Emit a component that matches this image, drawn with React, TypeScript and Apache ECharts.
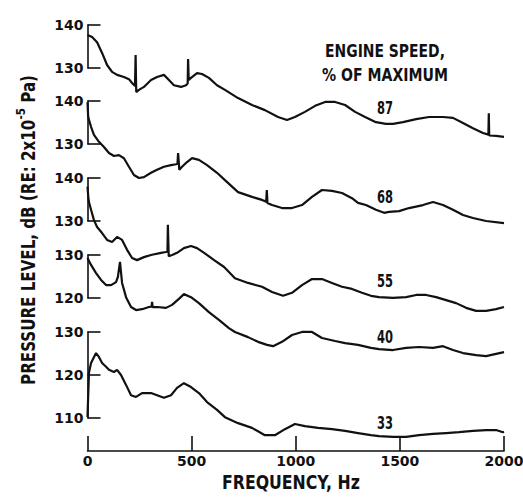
import { useEffect, useRef } from "react";
import * as echarts from "echarts";

// ---------- data (Hz, dB) ----------
const FREQ_MIN = 0;
const FREQ_MAX = 2000;
const FREQ_STEP = 500;

const speedLabels = ["87", "68", "55", "40", "33"];

const speed87: [number, number][] = [
  [0, 137.7], [22, 137.2], [46, 136.0], [70, 133.5], [94, 130.7], [118, 129.1], [142, 128.4],
  [175, 127.9], [199, 127.4], [214, 126.5], [228, 125.8], [231, 133.0], [234, 124.4], [247, 124.9],
  [271, 125.6], [305, 127.2], [334, 127.9], [367, 128.4], [391, 127.2], [415, 126.0], [449, 125.6],
  [473, 126.0], [481, 126.4], [483, 132.1], [486, 127.2], [497, 127.7], [526, 128.8], [550, 128.6],
  [583, 127.7], [622, 126.0], [660, 124.9], [723, 123.0], [790, 121.4], [852, 120.2], [915, 118.6],
  [958, 117.9], [996, 118.6], [1044, 119.8], [1093, 121.2], [1141, 122.1], [1189, 122.1],
  [1237, 121.4], [1285, 119.8], [1333, 118.6], [1385, 117.4], [1433, 117.0], [1467, 117.0],
  [1515, 117.4], [1578, 118.1], [1640, 118.6], [1707, 118.6], [1755, 118.4], [1803, 117.2],
  [1851, 116.0], [1899, 114.9], [1925, 114.5], [1927, 119.5], [1929, 114.3], [1962, 114.2],
  [2000, 114.0],
];

const speed68: [number, number][] = [
  [0, 139.7], [3, 136.5], [7, 135.6], [17, 134.0], [31, 132.1], [55, 130.5], [79, 129.3],
  [103, 127.9], [127, 127.2], [151, 127.4], [175, 126.7], [199, 124.7], [223, 122.8], [247, 122.1],
  [271, 122.3], [305, 123.3], [334, 124.0], [367, 124.7], [401, 125.1], [425, 125.3], [432, 125.4],
  [435, 127.9], [441, 124.0], [454, 124.7], [478, 125.8], [502, 126.7], [535, 126.3], [574, 125.1],
  [622, 123.3], [660, 121.6], [723, 118.8], [790, 117.7], [838, 117.0], [858, 116.6], [861, 119.3],
  [864, 116.3], [886, 115.8], [934, 115.1], [982, 115.1], [1030, 115.8], [1078, 117.7],
  [1126, 119.3], [1174, 119.1], [1222, 118.6], [1270, 117.4], [1299, 116.3], [1337, 115.8],
  [1385, 114.7], [1424, 114.0], [1448, 114.2], [1496, 114.4], [1544, 115.1], [1611, 115.8],
  [1659, 116.5], [1707, 115.8], [1755, 114.7], [1803, 113.5], [1851, 112.8], [1914, 112.1],
  [2000, 111.6],
];

const speed55: [number, number][] = [
  [0, 138.0], [4, 135.5], [7, 134.4], [17, 132.6], [31, 130.2], [46, 128.6], [70, 127.2],
  [94, 125.6], [118, 125.1], [142, 126.3], [166, 125.6], [190, 123.3], [214, 121.4], [238, 120.9],
  [271, 121.6], [305, 122.1], [353, 122.6], [377, 122.8], [384, 123.0], [386, 129.1], [390, 121.8],
  [406, 122.1], [430, 122.6], [463, 123.7], [497, 124.2], [526, 123.7], [560, 122.6], [608, 120.9],
  [656, 119.3], [708, 116.7], [771, 115.6], [838, 114.7], [886, 113.5], [939, 112.6], [982, 113.3],
  [1030, 115.1], [1078, 116.5], [1126, 116.5], [1174, 115.6], [1222, 114.7], [1270, 114.2],
  [1318, 113.3], [1361, 112.6], [1400, 112.3], [1467, 112.1], [1530, 112.3], [1578, 112.8],
  [1626, 112.8], [1674, 112.3], [1722, 111.6], [1770, 110.9], [1818, 109.8], [1866, 109.1],
  [1914, 109.1], [1962, 109.5], [2000, 110.0],
];

const speed40: [number, number][] = [
  [0, 129.3], [17, 127.7], [41, 125.8], [65, 124.2], [89, 123.0], [113, 123.0], [137, 123.7],
  [146, 124.9], [156, 128.4], [166, 123.5], [185, 120.2], [209, 117.9], [233, 117.2], [262, 117.4],
  [295, 117.9], [308, 118.0], [310, 119.1], [313, 117.9], [334, 117.9], [377, 117.7], [406, 118.4],
  [439, 119.8], [463, 120.9], [497, 120.2], [535, 118.8], [583, 116.7], [631, 114.9], [679, 113.0],
  [708, 112.1], [771, 110.9], [819, 109.8], [862, 109.1], [891, 108.8], [934, 109.8], [982, 111.4],
  [1030, 112.1], [1078, 112.1], [1126, 110.7], [1189, 110.0], [1237, 109.5], [1299, 109.1],
  [1361, 108.4], [1400, 108.1], [1467, 107.9], [1530, 108.4], [1592, 108.6], [1659, 108.4],
  [1707, 108.8], [1755, 107.9], [1803, 107.2], [1866, 106.7], [1914, 106.5], [1962, 107.0],
  [2000, 107.4],
];

const speed33: [number, number][] = [
  [0, 110.2], [7, 120.5], [17, 122.8], [41, 125.1], [55, 124.2], [70, 122.8], [89, 121.9],
  [103, 121.2], [127, 120.7], [142, 121.2], [161, 120.0], [185, 117.7], [209, 115.3], [233, 114.9],
  [262, 115.8], [305, 115.8], [334, 115.3], [367, 114.7], [401, 115.3], [430, 117.0], [463, 118.1],
  [497, 117.2], [535, 115.8], [574, 113.7], [622, 111.9], [660, 110.2], [723, 108.8], [790, 107.7],
  [852, 106.0], [900, 106.0], [948, 107.4], [996, 108.6], [1044, 108.1], [1107, 107.7],
  [1174, 107.4], [1237, 107.0], [1299, 106.5], [1361, 106.0], [1400, 105.8], [1467, 105.6],
  [1530, 105.6], [1592, 106.0], [1659, 106.3], [1722, 106.5], [1784, 106.7], [1851, 107.0],
  [1914, 107.2], [1962, 107.2], [1995, 106.7], [2000, 106.8],
];

const curves = [speed87, speed68, speed55, speed40, speed33];

// dB range of each curve's own bracket scale
const bracketMin = [130, 130, 130, 120, 110];
const bracketMax = [140, 140, 140, 130, 130];
const DB_STEP = 10;

// ---------- layout ----------
const PLOT_LEFT = 87.5;
const PLOT_WIDTH = 416.5;
const PX_PER_DB = 4.3;
const bracketTop = [25, 101, 178, 255, 332];
const labelY = [108, 197, 281, 337, 423];
const INK = "#111";
const FONT = "DejaVu Sans";

function measure(text: string, size: number, weight = "bold") {
  const ctx = document.createElement("canvas").getContext("2d")!;
  ctx.font = `${weight} ${size}px '${FONT}'`;
  return ctx.measureText(text).width;
}

function fittedText(text: string, x: number, y: number, size: number, targetW: number) {
  const w = measure(text, size);
  return {
    type: "text",
    x,
    y,
    scaleX: targetW / w,
    scaleY: 1,
    silent: true,
    style: {
      text,
      fontSize: size,
      fontFamily: FONT,
      fontWeight: "bold",
      fill: INK,
      align: "center",
      verticalAlign: "middle",
    },
  };
}

const plainNumber = (v: number) => String(v);

export default function App() {
  const ref = useRef<HTMLDivElement>(null);

  useEffect(() => {
    if (!ref.current) return;
    const chart = echarts.init(ref.current, null, { renderer: "svg" });

    const grids: any[] = [];
    const xAxes: any[] = [];
    const yAxes: any[] = [];
    const series: any[] = [];

    curves.forEach((data, i) => {
      grids.push({
        left: PLOT_LEFT,
        width: PLOT_WIDTH,
        top: bracketTop[i],
        height: (bracketMax[i] - bracketMin[i]) * PX_PER_DB,
        outerBoundsMode: "none",
        containLabel: false,
      });
      xAxes.push({ gridIndex: i, type: "value", min: FREQ_MIN, max: FREQ_MAX, show: false });
      yAxes.push({
        gridIndex: i,
        type: "value",
        position: "left",
        min: bracketMin[i],
        max: bracketMax[i],
        interval: DB_STEP,
        axisLine: { show: true, onZero: false, lineStyle: { color: INK, width: 1.6 } },
        axisTick: { show: true, inside: true, length: 13, lineStyle: { color: INK, width: 1.6 } },
        axisLabel: {
          fontSize: 14,
          fontFamily: FONT,
          fontWeight: "bold",
          color: INK,
          margin: 4,
          formatter: plainNumber,
        },
        splitLine: { show: false },
      });
      series.push({
        type: "line",
        name: speedLabels[i],
        xAxisIndex: i,
        yAxisIndex: i,
        data,
        showSymbol: false,
        clip: false,
        silent: true,
        lineStyle: { color: INK, width: 2.2 },
      });
    });

    // frequency axis
    grids.push({
      left: PLOT_LEFT,
      width: PLOT_WIDTH,
      top: 436,
      height: 15,
      outerBoundsMode: "none",
      containLabel: false,
    });
    xAxes.push({
      gridIndex: 5,
      type: "value",
      min: FREQ_MIN,
      max: FREQ_MAX,
      interval: FREQ_STEP,
      axisLine: { show: true, onZero: false, lineStyle: { color: INK, width: 1.6 } },
      axisTick: { show: true, inside: true, length: 15, lineStyle: { color: INK, width: 1.6 } },
      axisLabel: {
        fontSize: 14,
        fontFamily: FONT,
        fontWeight: "bold",
        color: INK,
        margin: 3,
        formatter: plainNumber,
      },
      splitLine: { show: false },
    });
    yAxes.push({ gridIndex: 5, type: "value", min: 0, max: 1, show: false });

    // y title (rotated, with superscript)
    const ySize = 19;
    const supSize = 13;
    const yW =
      measure("PRESSURE LEVEL, dB (RE: 2x10", ySize) +
      measure("-5", supSize) +
      measure(" Pa)", ySize);

    const graphic: any[] = [
      {
        type: "text",
        x: 26,
        y: 230,
        rotation: Math.PI / 2,
        scaleX: 310 / yW,
        scaleY: 1,
        silent: true,
        style: {
          text: "{m|PRESSURE LEVEL, dB (RE: 2x10}{s|-5}{m| Pa)}",
          align: "center",
          verticalAlign: "middle",
          rich: {
            m: { fontSize: ySize, fontFamily: FONT, fontWeight: "bold", fill: INK, lineHeight: 24, verticalAlign: "bottom" },
            s: { fontSize: supSize, fontFamily: FONT, fontWeight: "bold", fill: INK, lineHeight: 24, verticalAlign: "top" },
          },
        },
      },
      fittedText("FREQUENCY, Hz", 291, 482, 19, 138),
      fittedText("ENGINE SPEED,", 385, 51, 18, 120),
      fittedText("% OF MAXIMUM", 385, 75, 18, 126),
      ...speedLabels.map((s, i) => fittedText(s, 385, labelY[i], 18, 16)),
    ];

    chart.setOption({
      animation: false,
      backgroundColor: "#ffffff",
      grid: grids,
      xAxis: xAxes,
      yAxis: yAxes,
      series,
      graphic,
    });

    return () => chart.dispose();
  }, []);

  return (
    <div
      ref={ref}
      style={{ position: "fixed", left: 0, top: 0, width: 523, height: 497, background: "#fff" }}
    />
  );
}
